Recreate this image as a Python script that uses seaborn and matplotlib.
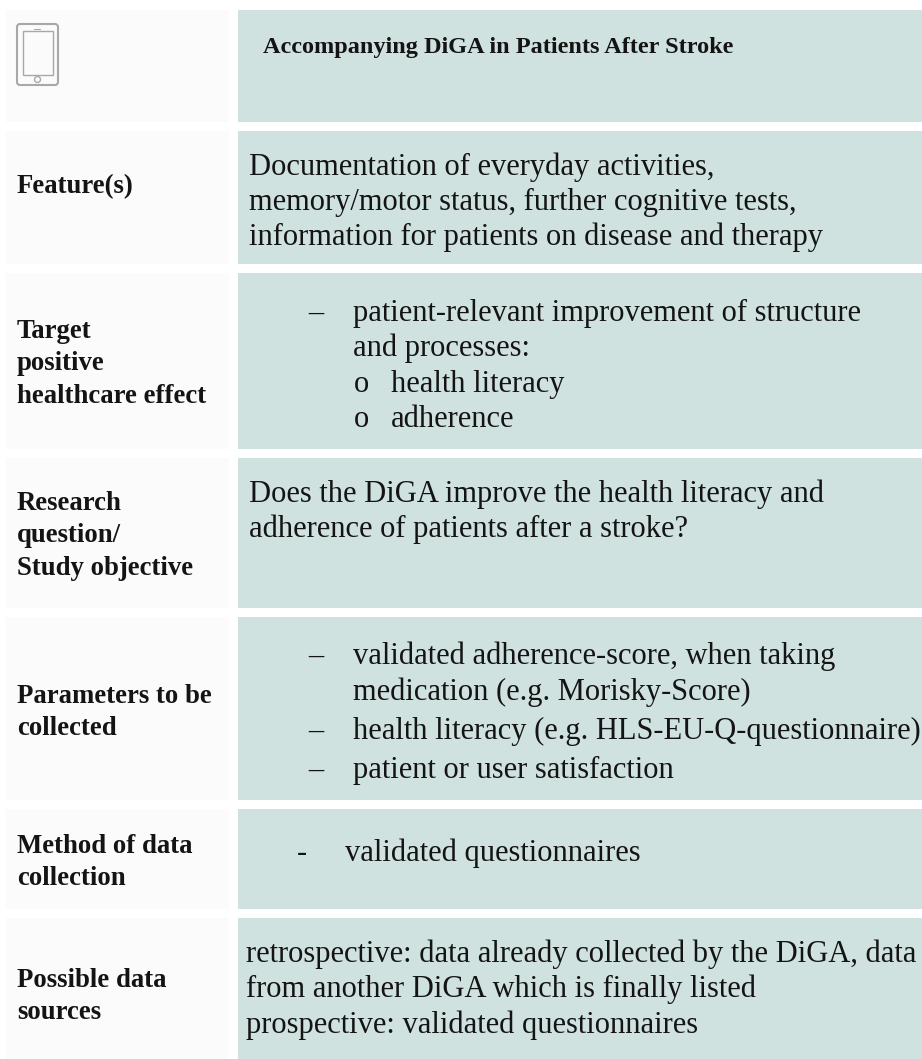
import matplotlib
matplotlib.use("Agg")
import matplotlib.pyplot as plt
from matplotlib.patches import Rectangle, FancyBboxPatch, Circle
import seaborn as sns

# tresc tabeli
row_labels = [
    [],
    ["Feature(s)"],
    ["Target", "positive", "healthcare effect"],
    ["Research", "question/", "Study objective"],
    ["Parameters to be", "collected"],
    ["Method of data", "collection"],
    ["Possible data", "sources"],
]
title = "Accompanying DiGA in Patients After Stroke"
feature_lines = [
    "Documentation of everyday activities,",
    "memory/motor status, further cognitive tests,",
    "information for patients on disease and therapy",
]
question_lines = [
    "Does the DiGA improve the health literacy and",
    "adherence of patients after a stroke?",
]
sources_lines = [
    "retrospective: data already collected by the DiGA, data",
    "from another DiGA which is finally listed",
    "prospective: validated questionnaires",
]

# granice wierszy w pikselach
row_tops = [10, 131, 273, 458, 617, 809, 918]
row_bottoms = [122, 264, 449, 608, 800, 909, 1059]
label_base = [None, 193, 338, 510, 703, 853, 987]

sns.set_theme(style="white")
plt.rcParams["font.family"] = ["Liberation Serif", "DejaVu Serif"]

fig = plt.figure(figsize=(9.22, 10.59), dpi=100)
ax = fig.add_axes([0, 0, 1, 1])
ax.set_xlim(0, 922)
ax.set_ylim(1059, 0)
ax.axis("off")

for top, bottom in zip(row_tops, row_bottoms):
    ax.add_patch(Rectangle((6, top), 223, bottom - top, color="#fbfbfb", lw=0))
    ax.add_patch(Rectangle((238, top), 684, bottom - top, color="#cfe2df", lw=0))

# ikona telefonu
GREY = "#a8a8a8"
ax.add_patch(FancyBboxPatch((17, 24), 41, 61, boxstyle="round,pad=0,rounding_size=3",
                            fc="none", ec=GREY, lw=1.5))
ax.add_patch(Rectangle((22.5, 31), 30, 44, fc="none", ec=GREY, lw=1.0))
ax.add_patch(Circle((37.5, 79.5), 3, fc="none", ec=GREY, lw=1.0))
ax.plot([34, 40], [28.5, 28.5], color=GREY, lw=0.8)

LABEL = 19.3
BODY = 22
TEXT = "#141414"


def body(x, y, s):
    ax.text(x, y, s, fontsize=BODY, color=TEXT, va="baseline")


for lines, base in zip(row_labels, label_base):
    for i, line in enumerate(lines):
        ax.text(17, base + i * 32.4, line, fontsize=LABEL, fontweight="bold",
                color=TEXT, va="baseline")

ax.text(263, 53, title, fontsize=17.5, fontweight="bold", color=TEXT, va="baseline")

for i, line in enumerate(feature_lines):
    body(249, 175 + i * 35.2, line)
for i, line in enumerate(question_lines):
    body(249, 502 + i * 35.5, line)
for i, line in enumerate(sources_lines):
    body(246, 962 + i * 35.3, line)

# wiersz: efekt
body(308, 321, "–")
body(353, 321, "patient-relevant improvement of structure")
body(353, 356, "and processes:")
body(354, 392, "o")
body(391, 392, "health literacy")
body(354, 427, "o")
body(391, 427, "adherence")

# wiersz: parametry
body(308, 664, "–")
body(353, 664, "validated adherence-score, when taking")
body(353, 700, "medication (e.g. Morisky-Score)")
body(308, 739, "–")
body(353, 739, "health literacy (e.g. HLS-EU-Q-questionnaire)")
body(308, 778, "–")
body(353, 778, "patient or user satisfaction")

# wiersz: metoda
body(297, 861, "-")
body(345, 861, "validated questionnaires")

fig.savefig("out.png", dpi=100)
